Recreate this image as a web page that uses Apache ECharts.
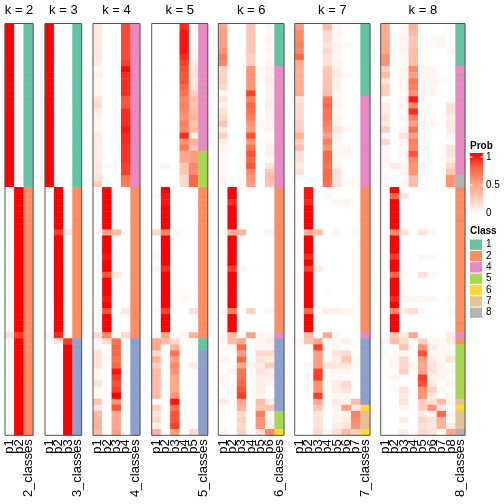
<!DOCTYPE html>
<html><head><meta charset="utf-8">
<script src="https://cdn.jsdelivr.net/npm/echarts@6/dist/echarts.min.js"></script>
<style>html,body{margin:0;padding:0;background:#fff}#c{width:504px;height:504px}</style>
</head><body><div id="c"></div><script>
// ---------- data (rows 0..67; segments: rows 0-26 / 27-51 / 52-67) ----------
const k2_p1 = [
1,1,1,1,1,1,1,1,1,1, 1,1,1,1,1,1,1,1,1,1, 1,1,1,1,1,1,1,
0,0,0,0,0,0,0,0,0,0, 0,0,0,0,0,0,0,0,0,0, 0,0,0,0,0.15,
0,0,0,0,0,0,0,0,0,0, 0,0,0,0,0,0];
const k2_p2 = [
0,0,0,0,0,0,0,0,0,0, 0,0,0,0,0,0,0,0,0,0, 0,0,0,0,0,0,0,
1,1,1,1,1,1,1,1,1,1, 1,1,1,1,1,1,1,1,1,1, 1,1,1,1,0.85,
1,1,1,1,1,1,1,1,1,1, 1,1,1,1,1,1];
const k2_cls = [
1,1,1,1,1,1,1,1,1,1, 1,1,1,1,1,1,1,1,1,1, 1,1,1,1,1,1,1,
2,2,2,2,2,2,2,2,2,2, 2,2,2,2,2,2,2,2,2,2, 2,2,2,2,2,
2,2,2,2,2,2,2,2,2,2, 2,2,2,2,2,2];

const k3_p1 = [
1,1,1,1,1,1,1,1,1,1, 1,1,1,1,1,1,1,1,1,1, 1,1,1,1,1,1,1,
0,0,0,0,0,0,0,0,0,0, 0,0,0,0,0,0,0,0,0,0, 0,0,0,0,0.05,
0,0,0,0,0,0,0,0,0,0, 0,0,0,0,0,0];
const k3_p2 = [
0,0,0,0,0,0,0,0,0,0, 0,0,0,0,0,0,0,0,0,0, 0,0,0,0,0,0,0,
1,1,1,1,1,1,1,0.85,1,1, 1,1,1,1,1,1,1,1,1,1, 1,1,1,1,0.9,
0.15,0,0,0,0,0,0,0,0,0, 0,0,0,0,0,0];
const k3_p3 = [
0,0,0,0,0,0,0,0,0,0, 0,0,0,0,0,0,0,0,0,0, 0,0,0,0,0,0,0,
0,0,0,0,0,0,0,0.12,0,0, 0,0,0,0,0,0,0,0,0,0, 0,0,0,0,0.05,
0.85,1,1,1,1,1,1,1,1,1, 1,1,1,1,1,1];
const k3_cls = [
1,1,1,1,1,1,1,1,1,1, 1,1,1,1,1,1,1,1,1,1, 1,1,1,1,1,1,1,
2,2,2,2,2,2,2,2,2,2, 2,2,2,2,2,2,2,2,2,2, 2,2,2,2,2,
3,3,3,3,3,3,3,3,3,3, 3,3,3,3,3,3];

const k4_p1 = [
0.12,0.12,0.12,0.12,0.12,0.12,0.1,0.02,0.1,0.05, 0.05,0.05,0.15,0.2,0.1,0.08,0.05,0.05,0.1,0.1, 0.1,0.1,0.1,0.12,0.1,0.15,0.25,
0,0,0,0,0,0,0,0.02,0,0, 0,0,0,0,0,0,0,0,0.02,0, 0.03,0,0,0,0.2,
0.05,0.05,0.15,0.15,0.15,0.05,0.05,0.15,0.05,0.02, 0.3,0.15,0.35,0.4,0.4,0.35];
const k4_p2 = [
0,0,0,0,0,0,0,0,0,0, 0,0,0,0,0,0,0,0,0,0, 0,0,0,0.03,0,0,0,
1,1,1,1,1,1,1,0.45,1,1, 1,0.95,1,1,0.8,1,1,1,0.95,1, 0.8,1,1,1,0.6,
0.2,0.02,0,0.03,0,0,0,0,0,0, 0,0,0,0,0,0];
const k4_p3 = [
0,0,0,0,0,0,0,0,0,0, 0,0,0,0,0,0,0,0,0,0, 0,0,0,0,0,0,0,
0,0,0,0,0,0,0,0.35,0,0, 0,0.02,0,0,0.12,0,0,0,0,0, 0,0,0,0,0,
0.7,0.75,0.75,0.7,0.75,0.95,0.85,0.8,0.85,1, 0.55,0.8,0.45,0.45,0.45,0.5];
const k4_p4 = [
0.82,0.82,0.82,0.82,0.82,0.82,0.85,0.98,0.9,0.9, 0.9,0.9,0.8,0.8,0.9,0.9,0.9,0.95,0.9,0.9, 0.88,0.88,0.88,0.85,0.85,0.7,0.65,
0,0,0,0,0,0,0,0,0,0, 0,0,0,0,0,0,0,0,0,0, 0.1,0,0,0,0.2,
0,0,0,0,0,0,0,0,0,0, 0,0,0,0,0,0];
const k4_cls = [
4,4,4,4,4,4,4,4,4,4, 4,4,4,4,4,4,4,4,4,4, 4,4,4,4,4,4,4,
2,2,2,2,2,2,2,2,2,2, 2,2,2,2,2,2,2,2,2,2, 2,2,2,2,2,
3,3,3,3,3,3,3,3,3,3, 3,3,3,3,3,3];

const k5_p1 = [
0,0,0,0,0,0,0,0.03,0,0, 0.03,0,0,0,0,0,0,0.03,0,0, 0,0,0,0,0,0.03,0.02,
0,0.03,0,0,0,0,0,0.2,0,0, 0,0.03,0,0.05,0,0,0,0,0,0, 0.03,0,0,0,0.03,
0.45,0.45,0.2,0.4,0.25,0.35,0.35,0.35,0.35,0.35, 0.02,0.25,0.15,0.2,0.1,0.4];
const k5_p2 = [
0,0,0,0,0,0,0,0,0,0, 0,0,0,0,0,0,0,0,0,0, 0,0,0,0.05,0,0,0,
1,0.95,0.95,1,1,1,1,0.6,1,1, 1,1,1,0.9,1,1,1,1,1,1, 0.85,1,1,1,0.45,
0.35,0.02,0,0,0,0,0,0.02,0,0, 0,0,0,0,0,0];
const k5_p3 = [
0,0,0,0,0,0,0,0,0,0, 0,0,0,0,0,0,0,0,0,0, 0,0,0,0,0,0,0,
0,0,0,0,0,0,0,0.05,0,0, 0,0,0,0,0,0,0,0,0,0, 0,0,0,0,0,
0.2,0.4,0.7,0.5,0.6,0.55,0.45,0.45,0.45,0.55, 0.95,0.7,0.8,0.8,0.85,0.5];
const k5_p4 = [
0.9,0.95,0.95,0.95,0.95,0.9,0.85,0.8,0.8,0.8, 0.75,0.7,0.6,0.65,0.6,0.55,0.65,0.6,0.9,0.55, 0.65,0.45,0.45,0.3,0.3,0.2,0.2,
0,0,0,0,0,0,0,0,0,0, 0,0,0,0,0,0,0,0.02,0.03,0, 0,0,0,0,0.05,
0,0,0,0,0,0,0,0,0,0, 0,0,0,0,0,0];
const k5_p5 = [
0.03,0.03,0.03,0.03,0.03,0.05,0.1,0.12,0.15,0.12, 0.15,0.25,0.35,0.3,0.35,0.4,0.3,0.35,0.08,0.4, 0.3,0.5,0.5,0.6,0.6,0.75,0.75,
0,0,0,0,0,0,0,0,0,0, 0,0,0,0,0,0,0,0,0,0, 0.15,0,0,0,0.4,
0,0,0,0,0.1,0,0,0,0,0, 0,0,0,0,0,0.2];
const k5_cls = [
4,4,4,4,4,4,4,4,4,4, 4,4,4,4,4,4,4,4,4,4, 4,5,5,5,5,5,5,
2,2,2,2,2,2,2,2,2,2, 2,2,2,2,2,2,2,2,2,2, 2,2,2,2,2,
1,1,3,3,3,3,3,3,3,3, 3,3,3,3,3,3];

const k6_p1 = [
0.45,0.5,0.5,0.5,0.55,0.65,0.6,0.22,0.22,0.25, 0.2,0.05,0.15,0.05,0.15,0.2,0.3,0.1,0.25,0.1, 0.05,0.05,0.03,0.05,0.03,0.05,0.05,
0,0,0,0,0,0,0,0.03,0,0, 0,0,0,0,0,0,0,0,0,0, 0.05,0,0,0,0.05,
0.05,0.03,0,0.05,0,0,0.05,0.05,0,0, 0.1,0,0,0,0,0.05];
const k6_p2 = [
0,0,0,0,0,0,0,0,0,0, 0,0,0,0,0,0,0,0,0,0, 0,0,0,0,0,0,0,
1,1,0.9,1,1,1,1,0.4,1,1, 1,1,1,0.85,1,1,1,1,1,1, 0.65,1,1,1,0.35,
0.35,0.02,0,0,0,0.05,0,0,0,0, 0,0,0,0,0,0];
const k6_p3 = [
0,0,0,0,0,0,0,0,0,0, 0,0,0,0,0,0,0,0,0,0, 0,0,0,0,0,0,0,
0,0,0,0,0,0,0,0.4,0,0, 0,0,0,0.05,0,0,0,0,0,0, 0,0,0,0,0,
0.45,0.75,0.5,0.75,0.45,0.7,0.7,0.75,0.8,0.85, 0.45,0.4,0.2,0.25,0.2,0.25];
const k6_p4 = [
0.3,0.3,0.3,0.3,0.3,0.25,0.25,0.55,0.55,0.55, 0.55,0.85,0.65,0.75,0.7,0.65,0.55,0.5,0.8,0.55, 0.7,0.8,0.75,0.8,0.6,0.55,0.5,
0,0,0,0,0,0,0,0,0,0, 0,0,0,0,0,0,0,0,0,0, 0.25,0,0,0,0.5,
0,0,0,0,0.05,0,0,0,0,0, 0,0,0,0,0,0.02];
const k6_p5 = [
0,0,0,0,0,0,0,0.03,0.03,0.03, 0,0,0,0,0,0,0.03,0.03,0,0, 0,0,0,0,0,0,0,
0,0,0,0,0,0,0,0,0,0, 0,0,0,0,0,0,0,0,0,0, 0,0,0,0,0.05,
0.05,0.05,0.2,0.15,0.1,0.15,0.1,0.1,0.1,0.05, 0.35,0.3,0.65,0.55,0.55,0.15];
const k6_p6 = [
0.05,0.03,0.05,0.03,0.05,0.03,0.05,0.08,0.08,0.1, 0.08,0.08,0.08,0.1,0.08,0.08,0.05,0.05,0,0.03, 0.08,0.08,0.03,0.15,0.3,0.35,0.3,
0,0,0,0,0,0,0,0.05,0,0, 0,0,0,0,0,0,0,0,0,0, 0.05,0,0,0,0.05,
0.1,0.05,0.2,0.1,0.25,0.1,0.1,0.05,0,0, 0.1,0.3,0.05,0.05,0.1,0.6];
const k6_cls = [
1,1,1,1,1,1,1,4,4,4, 4,4,4,4,4,4,4,4,4,4, 4,4,4,4,4,4,4,
2,2,2,2,2,2,2,2,2,2, 2,2,2,2,2,2,2,2,2,2, 2,2,2,2,4,
3,3,3,3,3,3,3,3,3,3, 3,3,5,5,5,6];

const k7_p1 = [
0.5,0.6,0.6,0.65,0.6,0.75,0.45,0.42,0.42,0.42, 0.42,0.45,0.15,0.2,0.2,0.2,0.25,0.25,0.4,0.25, 0.35,0.15,0.15,0.1,0.15,0.03,0,
0,0,0,0,0,0,0,0,0,0, 0,0,0,0,0,0,0,0,0,0, 0.02,0,0,0,0,
0.05,0.02,0,0,0,0,0,0,0,0, 0,0,0,0,0,0];
const k7_p2 = [
0,0,0,0,0,0,0,0,0,0, 0,0,0,0,0,0,0,0,0,0, 0,0,0,0,0,0,0,
0.95,0.95,0.9,1,1,1,1,0.4,1,1, 1,0.9,1,0.85,1,1,1,1,1,1, 0.75,1,1,1,0.35,
0.3,0,0,0,0.05,0,0.05,0,0.03,0, 0,0,0,0,0,0];
const k7_p3 = [
0,0,0,0,0,0,0,0,0,0, 0,0,0,0,0,0,0,0,0,0, 0,0,0,0,0,0,0,
0,0,0,0,0,0,0,0.35,0,0, 0,0.03,0,0.1,0,0,0,0,0,0, 0,0,0,0,0,
0.45,0.85,0.5,0.5,0.5,0.85,0.85,0.55,0.55,0.85, 0.45,0.3,0.15,0.15,0.15,0.2];
const k7_p4 = [
0.35,0.2,0.2,0.15,0.2,0.15,0.15,0.3,0.3,0.32, 0.32,0.35,0.7,0.75,0.7,0.7,0.65,0.6,0.5,0.65, 0.55,0.75,0.75,0.7,0.75,0.75,0.7,
0,0.03,0,0,0,0,0,0,0,0, 0,0,0,0,0,0,0,0.02,0,0, 0.08,0,0,0,0.45,
0,0,0,0,0.15,0,0,0,0,0, 0,0,0,0,0,0.05];
const k7_p5 = [
0.05,0.05,0.03,0.05,0.05,0.03,0.05,0.1,0.1,0.08, 0.08,0.03,0.05,0.05,0.03,0.05,0.05,0.15,0.08,0.05, 0.05,0.05,0.03,0.05,0.15,0.15,0.15,
0,0,0.05,0,0,0,0,0.05,0,0, 0,0,0,0.02,0,0,0,0,0,0, 0.08,0,0,0,0.05,
0.05,0.05,0.15,0.1,0.15,0.05,0.05,0.1,0.1,0.05, 0.1,0.05,0.05,0.05,0.1,0.15];
const k7_p6 = [
0.03,0,0,0.03,0,0,0,0,0.03,0, 0,0,0,0,0,0,0,0.05,0,0, 0.05,0.05,0,0,0,0,0.03,
0,0,0.05,0,0,0,0,0,0,0, 0,0,0,0,0,0,0,0,0,0, 0.05,0,0,0,0,
0.1,0,0.2,0.3,0.15,0.05,0,0.2,0.15,0.05, 0.05,0.5,0.05,0.1,0.15,0.35];
const k7_p7 = [
0,0,0,0,0,0,0,0,0,0, 0,0,0,0,0,0,0,0,0,0, 0,0,0,0,0,0.03,0.03,
0,0,0,0,0,0,0,0.03,0,0, 0,0,0,0,0,0,0,0,0,0, 0,0,0,0,0,
0,0,0,0.05,0.05,0,0,0,0,0, 0.35,0.1,0.65,0.6,0.55,0.25];
const k7_cls = [
1,1,1,1,1,1,1,1,1,1, 1,1,4,4,4,4,4,4,4,4, 4,4,4,4,4,4,4,
2,2,2,2,2,2,2,2,2,2, 2,2,2,2,2,2,2,2,2,2, 2,2,2,2,4,
3,3,3,3,3,3,3,3,3,3, 3,6,7,7,7,6];

const k8_p1 = [
0.45,0.45,0.45,0.45,0.45,0.55,0.55,0.25,0.35,0.15, 0.25,0.25,0.02,0.1,0.1,0.15,0.12,0.25,0.05,0.2, 0.05,0.03,0.05,0.03,0.03,0.03,0.03,
0,0,0,0,0,0,0,0,0,0, 0,0,0,0,0,0,0,0,0,0, 0,0,0,0,0,
0.05,0,0.02,0,0,0,0,0,0,0, 0,0,0,0,0,0];
const k8_p2 = [
0,0,0,0,0,0,0,0,0,0, 0,0,0,0,0,0,0,0,0,0, 0,0,0,0.1,0,0,0,
1,0.75,1,1,1,1,1,0.6,1,1, 1,0.85,1,1,0.75,1,1,1,0.9,1, 0.6,1,1,1,0.3,
0.35,0,0,0.05,0.05,0,0.05,0,0.03,0, 0,0,0,0,0,0];
const k8_p3 = [
0.03,0.03,0.05,0.05,0.05,0.03,0.03,0.05,0.05,0.05, 0.05,0.03,0.05,0.05,0.03,0.05,0.03,0.05,0.15,0.05, 0.03,0.05,0.03,0.05,0.05,0.03,0.05,
0,0.15,0,0,0,0,0,0.15,0,0, 0,0.03,0,0,0.03,0,0.03,0.03,0.05,0, 0.1,0,0,0,0.1,
0.2,0.3,0.05,0.2,0.2,0.25,0,0,0.15,0.1, 0.15,0.05,0,0.1,0,0.1];
const k8_p4 = [
0.4,0.35,0.3,0.3,0.35,0.35,0.35,0.6,0.5,0.7, 0.65,0.55,0.95,0.6,0.9,0.65,0.5,0.7,0.5,0.65, 0.6,0.8,0.6,0.55,0.55,0.35,0.35,
0,0,0,0,0,0,0,0,0,0, 0,0,0,0,0,0,0,0,0.05,0, 0.2,0,0,0,0.45,
0,0,0,0,0.05,0,0,0,0,0, 0,0,0,0,0,0];
const k8_p5 = [
0,0,0,0,0.03,0,0,0.05,0.05,0.05, 0.05,0.05,0.05,0,0,0,0.05,0,0,0, 0.05,0,0,0.05,0,0,0,
0,0,0,0,0,0,0,0.15,0,0, 0,0.05,0,0,0.15,0,0,0,0.05,0, 0.03,0,0,0,0,
0.25,0.55,0.8,0.5,0.45,0.45,0.85,0.8,0.55,0.55, 0.25,0.25,0.1,0.2,0.15,0.2];
const k8_p6 = [
0,0,0.03,0.03,0,0,0,0.05,0.05,0.05, 0.05,0.05,0,0,0,0,0.05,0,0,0, 0,0,0,0,0,0,0,
0,0.02,0,0,0,0,0,0.05,0,0, 0,0.03,0,0,0.03,0,0,0,0.05,0, 0,0,0,0,0,
0.05,0.1,0.05,0.1,0.15,0.15,0.05,0.1,0.25,0.1, 0.15,0.55,0.05,0.15,0.1,0.15];
const k8_p7 = [
0,0,0.05,0.05,0,0,0,0,0,0.03, 0,0,0,0,0,0,0,0,0,0, 0,0,0,0,0,0,0,
0,0,0,0,0,0,0,0,0,0, 0,0,0,0,0,0,0,0,0,0, 0,0,0,0,0,
0.05,0.05,0.05,0.05,0.05,0.05,0.05,0,0.05,0, 0.35,0.1,0.75,0.4,0.4,0];
const k8_p8 = [
0.03,0,0,0,0.05,0,0,0,0,0, 0,0,0,0.15,0.15,0.08,0.1,0.1,0.05,0, 0.15,0.15,0.1,0.2,0.3,0.55,0.55,
0,0,0,0,0,0,0,0,0,0, 0,0,0,0,0,0,0,0,0.03,0, 0.03,0,0,0,0.1,
0.1,0,0.05,0.15,0,0.05,0,0.05,0,0.05, 0.05,0,0.05,0,0.1,0.45];
const k8_cls = [
1,1,1,1,1,1,1,4,4,4, 4,4,4,4,4,4,4,4,4,4, 4,4,4,4,4,8,8,
2,2,2,2,2,2,2,2,2,2, 2,2,2,2,2,2,2,2,2,2, 2,2,2,2,4,
2,5,5,5,5,5,5,5,5,5, 7,6,7,7,7,8];

const legendClasses = ['1','2','4','5','6','7','8'];
const probTicks = [1, 0.5, 0];
const probTickLabels = ['1', '0.5', '0'];

// ---------- layout / style ----------
const FONT = "'Liberation Sans', Arial, Helvetica, sans-serif";
const classColors = {1:'#66C2A5',2:'#FC8D62',3:'#8DA0CB',4:'#E78AC3',5:'#A6D854',6:'#FFD92F',7:'#E5C494',8:'#B3B3B3'};
const probRamp = ['#FFFFFF','#FFCFBF','#FF9E81','#FF6846','#FF0000'];
const panelLeft  = [5, 45, 93, 151.7, 218.3, 294.7, 380.7];
const panelRight = [33.1, 81.7, 140, 207.8, 284, 370, 465];
const TOP = 24, BOTTOM = 435.3;

const panels = [
  {k:2, probs:[k2_p1,k2_p2], cls:k2_cls},
  {k:3, probs:[k3_p1,k3_p2,k3_p3], cls:k3_cls},
  {k:4, probs:[k4_p1,k4_p2,k4_p3,k4_p4], cls:k4_cls},
  {k:5, probs:[k5_p1,k5_p2,k5_p3,k5_p4,k5_p5], cls:k5_cls},
  {k:6, probs:[k6_p1,k6_p2,k6_p3,k6_p4,k6_p5,k6_p6], cls:k6_cls},
  {k:7, probs:[k7_p1,k7_p2,k7_p3,k7_p4,k7_p5,k7_p6,k7_p7], cls:k7_cls},
  {k:8, probs:[k8_p1,k8_p2,k8_p3,k8_p4,k8_p5,k8_p6,k8_p7,k8_p8], cls:k8_cls}
];
const nRows = k2_cls.length;
const rowIds = Array.from({length:nRows}, (_, i) => String(i));

const grid = [], xAxis = [], yAxis = [], series = [], graphic = [];
const probIdx = [], clsIdx = [];
const bad = [];
panels.forEach((p, i) => {
  p.probs.concat([p.cls]).forEach((a, j) => { if (a.length !== nRows) bad.push('k' + p.k + ' col' + j + ':' + a.length); });
  const left = panelLeft[i], width = panelRight[i] - left;
  grid.push({left: left, top: TOP, width: width, height: BOTTOM - TOP, containLabel: false});
  const cats = p.probs.map((_, j) => 'p' + (j + 1)).concat([p.k + '_classes']);
  xAxis.push({gridIndex:i, type:'category', data:cats, position:'bottom',
    axisLine:{show:false}, axisTick:{show:false}, splitLine:{show:false},
    axisLabel:{interval:0, rotate:90, margin:4, fontSize:13, fontFamily:FONT, color:'#000'}});
  yAxis.push({gridIndex:i, type:'category', data:rowIds, inverse:true, show:false});
  const d = [];
  p.probs.forEach((col, j) => col.forEach((v, r) => d.push([j, r, v])));
  series.push({type:'heatmap', xAxisIndex:i, yAxisIndex:i, data:d, progressive:0, emphasis:{disabled:true}});
  probIdx.push(series.length - 1);
  const cd = p.cls.map((c, r) => [p.probs.length, r, c]);
  series.push({type:'heatmap', xAxisIndex:i, yAxisIndex:i, data:cd, progressive:0, emphasis:{disabled:true}});
  clsIdx.push(series.length - 1);
  graphic.push({type:'text', x:(left + panelRight[i]) / 2, y:10.5, z:100,
    style:{text:'k = ' + p.k, fontSize:13, fontFamily:FONT, fill:'#000', align:'center', verticalAlign:'middle', textAlign:'center', textVerticalAlign:'middle'}});
  graphic.push({type:'rect', z:100, shape:{x:left, y:TOP - 0.5, width:width, height:BOTTOM - TOP + 0.5},
    style:{fill:'none', stroke:'#555', lineWidth:1}});
});

// legend: Prob
const LX = 470;
graphic.push({type:'text', x:LX, y:146, style:{text:'Prob', fontSize:10, fontWeight:'bold', fontFamily:FONT, fill:'#000', verticalAlign:'middle', textVerticalAlign:'middle'}});
const barTop = 153, barBot = 214, barW = 13;
graphic.push({type:'rect', shape:{x:LX, y:barTop, width:barW, height:barBot - barTop},
  style:{fill:{type:'linear', x:0, y:0, x2:0, y2:1, colorStops: probRamp.slice().reverse().map((c, i, a) => ({offset:i / (a.length - 1), color:c}))}}});
probTicks.forEach((v, i) => {
  const y = barBot - 1 - v * (barBot - barTop - 5);
  graphic.push({type:'line', shape:{x1:LX, y1:y, x2:LX + 2.5, y2:y}, style:{stroke:'#fff', lineWidth:1}, z:10});
  graphic.push({type:'line', shape:{x1:LX + barW - 2.5, y1:y, x2:LX + barW, y2:y}, style:{stroke:'#fff', lineWidth:1}, z:10});
  graphic.push({type:'text', x:LX + barW + 3, y:y, style:{text:probTickLabels[i], fontSize:10, fontFamily:FONT, fill:'#000', verticalAlign:'middle', textVerticalAlign:'middle'}});
});
// legend: Class
graphic.push({type:'text', x:LX, y:231, style:{text:'Class', fontSize:10, fontWeight:'bold', fontFamily:FONT, fill:'#000', verticalAlign:'middle', textVerticalAlign:'middle'}});
const step = 11.34;
legendClasses.forEach((c, i) => {
  const y = 239 + i * step;
  graphic.push({type:'rect', shape:{x:LX, y:y + 0.5, width:12, height:step - 1}, style:{fill:classColors[c]}});
  graphic.push({type:'text', x:LX + 16, y:y + step / 2, style:{text:c, fontSize:10, fontFamily:FONT, fill:'#000', verticalAlign:'middle', textVerticalAlign:'middle'}});
});
if (bad.length) graphic.push({type:'text', x:10, y:480, z:200, style:{text:bad.join(' '), fontSize:10, fill:'blue'}});

const chart = echarts.init(document.getElementById('c'), null, {renderer:'canvas'});
chart.setOption({
  animation:false,
  backgroundColor:'#fff',
  grid: grid, xAxis: xAxis, yAxis: yAxis,
  visualMap: [
    {type:'continuous', show:false, min:0, max:1, dimension:2, seriesIndex:probIdx, inRange:{color:probRamp}},
    {type:'piecewise', show:false, dimension:2, seriesIndex:clsIdx,
      pieces: Object.keys(classColors).map(k => ({value:+k, color:classColors[k]}))}
  ],
  series: series,
  graphic: graphic
});
</script></body></html>
